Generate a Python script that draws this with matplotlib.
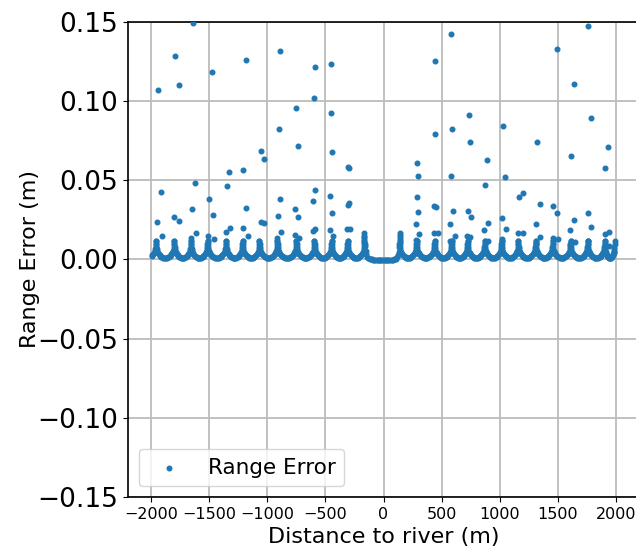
import numpy as np
import matplotlib
matplotlib.use("Agg")
import matplotlib.pyplot as plt

# boundaries of the periodic "U" shaped error bands (m)
band_edges = [-2110, -1960, -1802, -1658, -1515, -1356, -1213, -1069, -914,
              -750, -595, -448, -310, -164,
              138, 284, 440, 586, 724, 871, 1017, 1160, 1310, 1457, 1610,
              1759, 1905, 1990]

# shape of one band, as fraction across band -> error (m)
u_frac = [0.0, 0.01, 0.02, 0.035, 0.05, 0.08, 0.11, 0.15, 0.2, 0.25, 0.3,
          0.35, 0.4, 0.45, 0.5, 0.55, 0.6, 0.65, 0.7, 0.75, 0.8, 0.85, 0.89,
          0.92, 0.95, 0.965, 0.98, 0.99, 1.0]
u_val = [0.0115, 0.0095, 0.0078, 0.0064, 0.0054, 0.0045, 0.0038, 0.0031,
         0.0025, 0.0020, 0.0016, 0.0013, 0.0011, 0.0010, 0.0010, 0.0010,
         0.0011, 0.0013, 0.0016, 0.0020, 0.0025, 0.0031, 0.0038, 0.0045,
         0.0054, 0.0064, 0.0078, 0.0095, 0.0115]

# flat region around the river
center_x = [-160, -155, -150, -140, -130, -120, -110, -100, -90, -80, -70, -60,
            -50, -40, -30, -20, -10, 0, 10, 20, 30, 40, 50, 60, 70, 80, 90,
            100, 110, 120, 125, 130, 134]
center_y = [0.0085, 0.0055, 0.0035, 0.0018, 0.0010, 0.0005, 0.0002, 0.0,
            -0.0002, -0.0003, -0.0004, -0.0005, -0.0006, -0.0006, -0.0007,
            -0.0007, -0.0007, -0.0007, -0.0007, -0.0007, -0.0006, -0.0006,
            -0.0005, -0.0004, -0.0003, -0.0002, 0.0, 0.0002, 0.0005, 0.0012,
            0.0025, 0.0045, 0.0075]

# taller clusters on both sides of the flat region
edge_x = [-168, -167, -166, -165, -164, -163, 137, 138, 139, 140, 141, 142]
edge_y = [0.0164, 0.0150, 0.0138, 0.0126, 0.0112, 0.0100,
          0.0100, 0.0112, 0.0126, 0.0140, 0.0152, 0.0166]

# isolated large errors near the band boundaries
spike_x = [-1946, -1793, -1765, -1640, -1474, -1181, -888, -592, -451, -601,
           -753, -902, -733, -454, -442, -1054, -1028, -304, -299, -1207,
           -1334, -1351, -1623, -1916, -1502, -1652, -1181, -888, -589, -609,
           -459, -761, -733, -442, -296, -304, -1951, -1802, -1765, -1471,
           -1054, -1028, -905, -1908, -1612, -1661, -1511, -1463, -1356,
           -1321, -1207, -1170, -879, -914, -759, -724, -609, -586, -459,
           -431, -316, -293,
           442, 580, 1491, 1764, 1641, 446, 733, 592, 741, 1026, 1321, 1790,
           1934, 1908, 1612, 290, 299, 580, 891, 877, 1043, 290, 299, 431,
           451, 601, 724, 753, 899, 868, 1017, 1054, 1166, 1198, 1347, 1459,
           1491, 1310, 1345, 1606, 1641, 1758, 1790, 1908, 1945, 278, 304,
           278, 569, 615, 572, 721, 747, 902, 1023, 1161, 1201, 1310, 1463,
           1506, 1603, 1646, 1758, 1908, 1943, 434, 468]
spike_y = [0.1067, 0.1281, 0.1098, 0.1493, 0.1182, 0.1260, 0.1314, 0.1215,
           0.1234, 0.1020, 0.0955, 0.0824, 0.0715, 0.0923, 0.0675, 0.0683,
           0.0635, 0.0584, 0.0576, 0.0565, 0.0551, 0.0461, 0.0481, 0.0423,
           0.0382, 0.0317, 0.0324, 0.0382, 0.0435, 0.0370, 0.0398, 0.0317,
           0.0267, 0.0292, 0.0357, 0.0341, 0.0233, 0.0265, 0.0240, 0.0280,
           0.0235, 0.0227, 0.0273, 0.0149, 0.0168, 0.0136, 0.0149, 0.0130,
           0.0174, 0.0196, 0.0199, 0.0149, 0.0170, 0.0134, 0.0155, 0.0136,
           0.0179, 0.0193, 0.0187, 0.0149, 0.0189, 0.0193,
           0.1253, 0.1424, 0.1325, 0.1474, 0.1104, 0.0793, 0.0909, 0.0824,
           0.0740, 0.0839, 0.0740, 0.0890, 0.0709, 0.0578, 0.0650, 0.0610,
           0.0526, 0.0526, 0.0629, 0.0467, 0.0519, 0.0395, 0.0298, 0.0338,
           0.0330, 0.0305, 0.0305, 0.0265, 0.0227, 0.0187, 0.0259, 0.0193,
           0.0395, 0.0420, 0.0351, 0.0336, 0.0290, 0.0221, 0.0143, 0.0187,
           0.0246, 0.0290, 0.0206, 0.0160, 0.0174, 0.0221, 0.0162, 0.0122,
           0.0221, 0.0149, 0.0117, 0.0145, 0.0139, 0.0114, 0.0126, 0.0164,
           0.0164, 0.0105, 0.0136, 0.0126, 0.0090, 0.0109, 0.0117, 0.0086,
           0.0086, 0.0164, 0.0164]

# assemble all points
xs, ys = [], []
for a, b in zip(band_edges[:-1], band_edges[1:]):
    if a == -164:
        continue  # flat river section handled separately
    for f, v in zip(u_frac, u_val):
        x = a + f * (b - a)
        if -2000 <= x <= 2000:
            xs.append(x)
            ys.append(v)
xs += center_x + edge_x + spike_x
ys += center_y + edge_y + spike_y

fig = plt.figure(figsize=(6.36, 5.51), dpi=100)
ax = fig.add_axes([0.2013, 0.098, 0.8035, 0.8626])
ax.scatter(xs, ys, s=11, color='#1f77b4', label='Range Error', zorder=3)

ax.set_xlim(-2200, 2200)
ax.set_ylim(-0.15, 0.15)
ax.set_xticks([-2000, -1500, -1000, -500, 0, 500, 1000, 1500, 2000])
ax.set_yticks([-0.15, -0.10, -0.05, 0.0, 0.05, 0.10, 0.15])
ax.tick_params(axis='x', labelsize=11.5)
ax.tick_params(axis='y', labelsize=19)
ax.grid(True, color='#bcbcbc', linewidth=1.3)
ax.set_axisbelow(True)
for sp in ax.spines.values():
    sp.set_linewidth(1.2)
ax.set_xlabel('Distance to river (m)', fontsize=16)
ax.set_ylabel('Range Error (m)', fontsize=16)
ax.yaxis.set_label_coords(-0.172, 0.5)
ax.legend(loc='lower left', fontsize=15.5)

fig.savefig('out.png', dpi=100)
